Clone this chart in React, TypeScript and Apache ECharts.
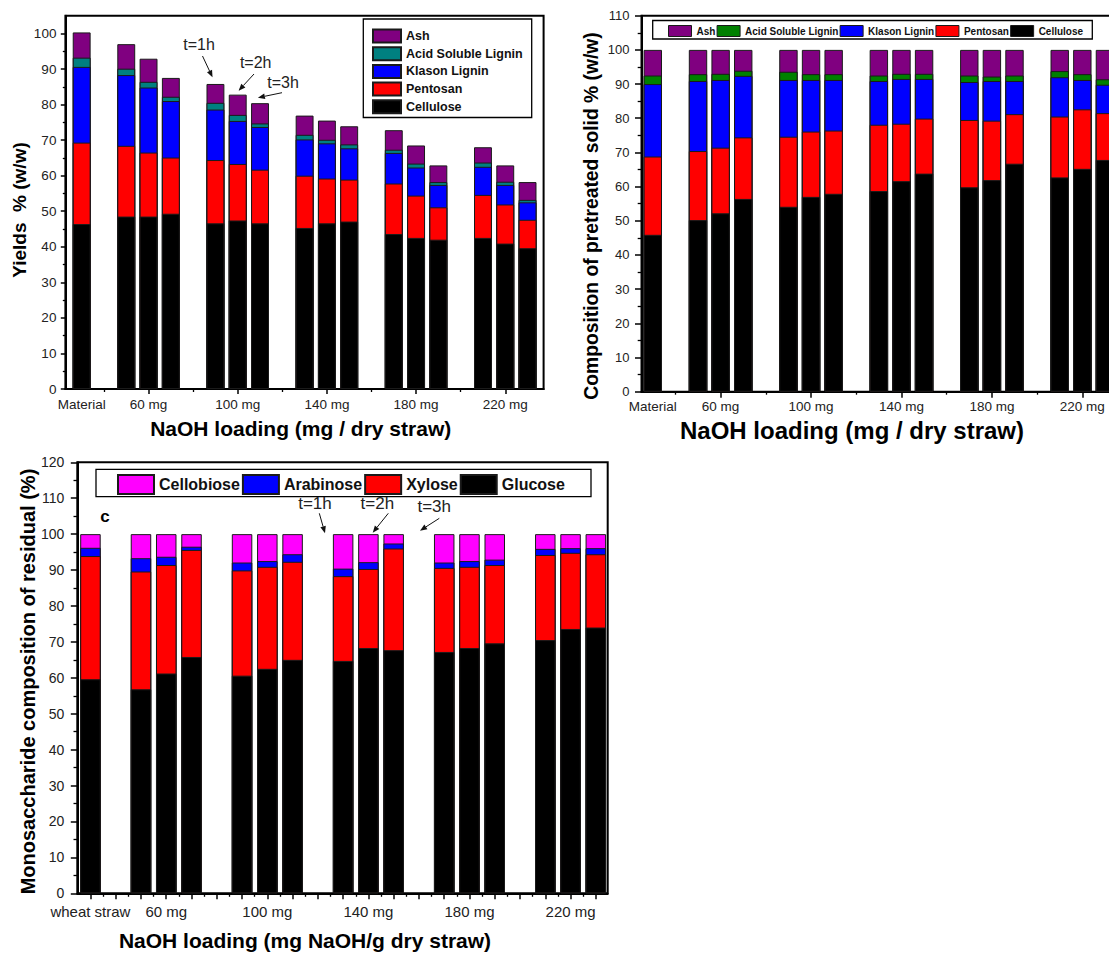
import React, { useEffect, useRef } from "react";
import * as echarts from "echarts";

// ---------- categories ----------
const groupsAB = ["Material", "60 mg", "100 mg", "140 mg", "180 mg", "220 mg"];
const groupsC = ["wheat straw", "60 mg", "100 mg", "140 mg", "180 mg", "220 mg"];
const namesAB = ["Ash", "Acid Soluble Lignin", "Klason Lignin", "Pentosan", "Cellulose"];
const namesC = ["Cellobiose", "Arabinose", "Xylose", "Glucose"];

// sample order: raw material, then 60/100/140/180/220 mg each at t=1h, 2h, 3h
// ---------- panel a: yields % (w/w) ----------
const aCellulose = [46.4, 48.5, 48.5, 49.3, 46.6, 47.4, 46.6, 45.3, 46.6, 47.1, 43.6, 42.5, 42.0, 42.5, 40.9, 39.6];
const aPentosan = [22.9, 19.9, 18.0, 15.8, 17.8, 15.9, 15.1, 14.7, 12.6, 11.8, 14.2, 11.9, 9.1, 12.1, 11.0, 8.0];
const aKlason = [21.3, 19.9, 18.3, 15.9, 14.2, 12.1, 12.0, 10.2, 9.9, 8.8, 8.6, 7.9, 6.3, 7.9, 5.5, 4.9];
const aASL = [2.6, 1.8, 1.6, 1.2, 1.9, 1.7, 1.0, 1.3, 1.0, 1.1, 0.9, 1.1, 0.8, 1.2, 0.9, 0.7];
const aAsh = [7.1, 6.9, 6.5, 5.3, 5.3, 5.7, 5.7, 5.4, 5.4, 5.1, 5.5, 5.1, 4.7, 4.3, 4.6, 5.0];

// ---------- panel b: composition of pretreated solid % (w/w) ----------
const bCellulose = [45.9, 50.2, 52.2, 56.4, 54.1, 57.0, 57.9, 58.7, 61.6, 63.8, 59.8, 61.9, 66.7, 62.7, 65.2, 67.8];
const bPentosan = [22.9, 20.2, 19.2, 18.0, 20.5, 19.1, 18.5, 19.4, 16.8, 16.1, 19.7, 17.4, 14.5, 17.8, 17.4, 13.7];
const bKlason = [21.2, 20.5, 19.8, 18.0, 16.6, 15.1, 14.8, 12.8, 13.1, 11.6, 11.1, 11.6, 9.7, 11.5, 8.6, 8.3];
const bASL = [2.5, 2.0, 1.8, 1.5, 2.4, 1.7, 1.7, 1.6, 1.5, 1.5, 1.9, 1.3, 1.6, 1.8, 1.7, 1.6];
const bAsh = [7.5, 7.1, 7.0, 6.1, 6.4, 7.1, 7.1, 7.5, 7.0, 7.0, 7.5, 7.8, 7.5, 6.2, 7.1, 8.6];

// ---------- panel c: monosaccharide composition of residual (%) ----------
const cGlucose = [59.6, 56.8, 61.2, 65.8, 60.6, 62.5, 65.0, 64.7, 68.3, 67.7, 67.2, 68.3, 69.6, 70.5, 73.6, 74.0];
const cXylose = [34.3, 32.8, 30.2, 29.8, 29.3, 28.4, 27.3, 23.6, 22.0, 28.3, 23.4, 22.6, 21.8, 23.7, 21.2, 20.4];
const cArabinose = [2.3, 3.7, 2.3, 0.9, 2.2, 1.6, 2.1, 2.1, 1.9, 1.4, 1.5, 1.6, 1.5, 1.7, 1.3, 1.7];
const cCellobiose = [3.8, 6.7, 6.3, 3.5, 7.9, 7.5, 5.6, 9.6, 7.8, 2.6, 7.9, 7.5, 7.1, 4.1, 3.9, 3.9];

const timeLabels = ["t=1h", "t=2h", "t=3h"];

// ---------- layout helpers ----------
const FONT = "'Liberation Sans', Arial, Helvetica, sans-serif";
const sampleSlot = (i: number) => (i === 0 ? 0 : 4 * Math.ceil(i / 3) - 2 + ((i - 1) % 3));
const labelSlots = [0, 3, 7, 11, 15, 19];
const groupTickSlots = [3, 7, 11, 15, 19];
const gapSlots = [1, 5, 9, 13, 17];
const intSlots = Array.from({ length: 21 }, (_, i) => i);
const halfSlots = Array.from({ length: 21 }, (_, i) => i + 0.5).filter((v) => v < 20.5);
const range = (a: number, b: number, s: number) => {
  const r: number[] = [];
  for (let v = a; v <= b + 1e-9; v += s) r.push(v);
  return r;
};

function cumulative(layers: number[][]): number[][] {
  const out: number[][] = [];
  let acc = layers[0].map(() => 0);
  for (const l of layers) {
    acc = acc.map((a, i) => Math.round((a + l[i]) * 100) / 100);
    out.push(acc);
  }
  return out;
}

function barSeries(name: string, color: string, tops: number[], axis: number, width: number) {
  return {
    type: "bar",
    name,
    xAxisIndex: axis,
    yAxisIndex: axis,
    barWidth: width,
    barGap: "-100%",
    data: tops.map((v, i) => [sampleSlot(i), v]),
    itemStyle: { color, borderColor: "#1a1a1a", borderWidth: 1 },
    emphasis: { disabled: true },
    silent: true,
  };
}

function arrow(x1: number, y1: number, x2: number, y2: number) {
  const ang = Math.atan2(y2 - y1, x2 - x1);
  const L = 7;
  const W = 2.8;
  const bx = x2 - L * Math.cos(ang);
  const by = y2 - L * Math.sin(ang);
  const px = -Math.sin(ang) * W;
  const py = Math.cos(ang) * W;
  return [
    { type: "line", shape: { x1, y1, x2: bx, y2: by }, style: { stroke: "#111", lineWidth: 1 }, silent: true },
    {
      type: "polygon",
      shape: { points: [[x2, y2], [bx + px, by + py], [bx - px, by - py]] },
      style: { fill: "#111" },
      silent: true,
    },
  ];
}

function txt(text: string, x: number, y: number, font: string, rotation = 0, color = "#000") {
  return {
    type: "text",
    x,
    y,
    rotation,
    silent: true,
    style: {
      text,
      font,
      fill: color,
      textAlign: "center",
      textVerticalAlign: "middle",
      align: "center",
      verticalAlign: "middle",
    },
  };
}

function box(x: number, y: number, w: number, h: number) {
  return {
    type: "rect",
    shape: { x, y, width: w, height: h },
    style: { fill: "transparent", stroke: "#000", lineWidth: 1.3 },
    silent: true,
  };
}

function xAxes(grid: number, min: number, max: number, labels: string[], major: number[], majorLen: number, minor: number[], minorLen: number, fontSize: number, margin: number) {
  return [
    {
      type: "value",
      gridIndex: grid,
      position: "bottom",
      min,
      max,
      axisLine: { show: true, onZero: false, lineStyle: { color: "#000", width: 2 } },
      axisTick: { show: true, customValues: major, length: majorLen, lineStyle: { color: "#000", width: 1.5 } },
      axisLabel: {
        show: true,
        customValues: labelSlots,
        formatter: (v: number) => labels[labelSlots.indexOf(Math.round(v))] ?? "",
        fontSize,
        fontFamily: FONT,
        color: "#222",
        margin,
      },
      splitLine: { show: false },
    },
    {
      type: "value",
      gridIndex: grid,
      position: "bottom",
      min,
      max,
      axisLine: { show: false, onZero: false },
      axisTick: { show: true, customValues: minor, length: minorLen, lineStyle: { color: "#000", width: 1.3 } },
      axisLabel: { show: false },
      splitLine: { show: false },
    },
  ];
}

function yAxes(grid: number, max: number, majorLen: number, minorLen: number, fontSize: number, margin: number) {
  const labels = range(0, max, 10);
  const minor = range(5, max - 5, 10);
  return [
    {
      type: "value",
      gridIndex: grid,
      position: "left",
      min: 0,
      max,
      axisLine: { show: true, onZero: false, lineStyle: { color: "#000", width: 2 } },
      axisTick: { show: true, customValues: labels, length: majorLen, lineStyle: { color: "#000", width: 1.5 } },
      axisLabel: { show: true, customValues: labels, fontSize, fontFamily: FONT, color: "#222", margin },
      splitLine: { show: false },
    },
    {
      type: "value",
      gridIndex: grid,
      position: "left",
      min: 0,
      max,
      axisLine: { show: false, onZero: false },
      axisTick: { show: true, customValues: minor, length: minorLen, lineStyle: { color: "#000", width: 1.3 } },
      axisLabel: { show: false },
      splitLine: { show: false },
    },
  ];
}

export default function App() {
  const ref = useRef<HTMLDivElement>(null);

  useEffect(() => {
    if (!ref.current) return;
    const chart = echarts.init(ref.current, undefined, { renderer: "svg" });

    const aTops = cumulative([aCellulose, aPentosan, aKlason, aASL, aAsh]);
    const bTops = cumulative([bCellulose, bPentosan, bKlason, bASL, bAsh]);
    const cTops = cumulative([cGlucose, cXylose, cArabinose, cCellobiose]);

    const colorsA = ["#800080", "#008080", "#0000FF", "#FF0000", "#000000"];
    const colorsB = ["#800080", "#008000", "#0000FF", "#FF0000", "#000000"];
    const colorsC = ["#FF00FF", "#0000FF", "#FF0000", "#000000"];

    const series: any[] = [];
    // panel a (axis index 0)
    namesAB.forEach((n, k) => series.push(barSeries(n, colorsA[k], aTops[4 - k], 0, 17.9)));
    // panel b (axis index 2)
    namesAB.forEach((n, k) => series.push(barSeries(n, colorsB[k], bTops[4 - k], 2, 18.4)));
    // panel c (axis index 4)
    namesC.forEach((n, k) => series.push(barSeries(n, colorsC[k], cTops[3 - k], 4, 20.5)));

    const graphic: any[] = [
      box(363.3, 19, 168.4, 98.5),
      box(652.7, 20.5, 439.6, 18.5),
      box(96, 469.3, 495, 27.4),
      txt("Yields  % (w/w)", 19.6, 210, `bold 19px ${FONT}`, Math.PI / 2),
      txt("NaOH loading (mg / dry straw)", 300.7, 428, `bold 21px ${FONT}`),
      txt("Composition of pretreated solid % (w/w)", 591.7, 216, `bold 19.3px ${FONT}`, Math.PI / 2),
      txt("NaOH loading (mg / dry straw)", 852, 430, `bold 24px ${FONT}`),
      txt("Monosaccharide composition of residual (%)", 28.3, 681.5, `bold 20px ${FONT}`, Math.PI / 2),
      txt("NaOH loading (mg NaOH/g dry straw)", 305, 940, `bold 21px ${FONT}`),
      txt("c", 105, 516, `bold 17px ${FONT}`),
      txt(timeLabels[0], 199, 44, `16px ${FONT}`, 0, "#222"),
      txt(timeLabels[1], 255.7, 62, `16px ${FONT}`, 0, "#222"),
      txt(timeLabels[2], 283, 82, `16px ${FONT}`, 0, "#222"),
      ...arrow(202.5, 56, 212.5, 77.3),
      ...arrow(254, 74, 238.6, 90.7),
      ...arrow(282, 92.7, 257.9, 97.7),
      txt(timeLabels[0], 315, 503.3, `17px ${FONT}`, 0, "#222"),
      txt(timeLabels[1], 377.4, 503.3, `17px ${FONT}`, 0, "#222"),
      txt(timeLabels[2], 434.2, 506, `17px ${FONT}`, 0, "#222"),
      ...arrow(319.3, 513.3, 325, 533.3),
      ...arrow(388.3, 513.3, 372.7, 532.7),
      ...arrow(439.3, 518.3, 420, 530.7),
    ];

    const option: any = {
      animation: false,
      backgroundColor: "#fff",
      textStyle: { fontFamily: FONT },
      grid: [
        { left: 65.4, top: 15.7, width: 478.2, height: 373.3, show: true, borderColor: "#000", borderWidth: 2, outerBoundsMode: "none", containLabel: false },
        { left: 641.5, top: 15.7, width: 477, height: 376, show: true, borderColor: "#000", borderWidth: 2, outerBoundsMode: "none", containLabel: false },
        { left: 77.3, top: 462.3, width: 530.4, height: 431, show: true, borderColor: "#000", borderWidth: 2, outerBoundsMode: "none", containLabel: false },
      ],
      xAxis: [
        ...xAxes(0, -0.73, 20.72, groupsAB, groupTickSlots, 5, gapSlots, 3, 13.5, 8),
        ...xAxes(1, -0.5, 20.6, groupsAB, groupTickSlots, 6, gapSlots, 3, 13.5, 8),
        ...xAxes(2, -0.52, 20.47, groupsC, intSlots, 6, halfSlots, 3.5, 15, 11),
      ],
      yAxis: [
        ...yAxes(0, 105, 4.6, 2.6, 13.5, 9),
        ...yAxes(1, 110, 6.5, 3.8, 13, 12),
        ...yAxes(2, 120, 6.5, 3.8, 14, 13),
      ],
      legend: [
        {
          orient: "vertical",
          left: 372,
          top: 28.5,
          padding: 0,
          itemWidth: 28,
          itemHeight: 13,
          itemGap: 2.7,
          icon: "rect",
          selectedMode: false,
          data: namesAB,
          textStyle: { fontSize: 12.5, fontWeight: "bold", color: "#111", fontFamily: FONT, lineHeight: 14 },
        },
        {
          orient: "horizontal",
          left: 668,
          top: 25,
          padding: 0,
          itemWidth: 23,
          itemHeight: 11,
          itemGap: 1.2,
          icon: "rect",
          selectedMode: false,
          data: namesAB.map((n, k) => ({ name: n, itemStyle: { color: colorsB[k], borderColor: "#1a1a1a", borderWidth: 1 } })),
          textStyle: { fontSize: 10, fontWeight: "bold", color: "#111", fontFamily: FONT, lineHeight: 12 },
        },
        {
          orient: "horizontal",
          left: 117,
          top: 474,
          padding: 0,
          itemWidth: 36,
          itemHeight: 19,
          itemGap: 2,
          icon: "rect",
          selectedMode: false,
          data: namesC,
          textStyle: { fontSize: 16, fontWeight: "bold", color: "#111", fontFamily: FONT, lineHeight: 19 },
        },
      ],
      series,
      graphic,
    };

    chart.setOption(option);
    return () => chart.dispose();
  }, []);

  return (
    <div
      ref={ref}
      style={{ position: "absolute", left: 0, top: 0, width: 1109, height: 953, background: "#fff" }}
    />
  );
}
